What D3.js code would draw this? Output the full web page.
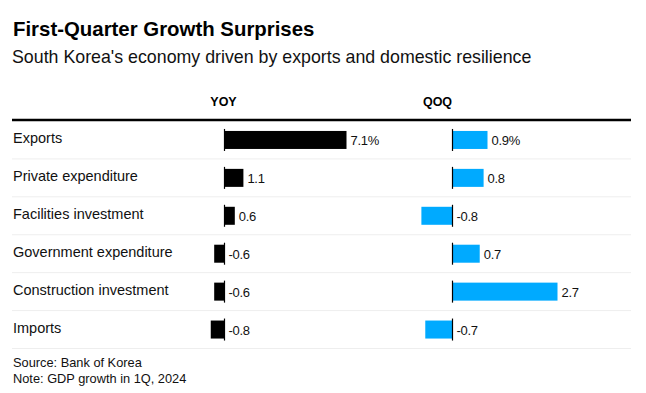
<!DOCTYPE html>
<html>
<head>
<meta charset="utf-8">
<script src="https://cdn.jsdelivr.net/npm/d3@7"></script>
<style>
  body { margin: 0; background: #fff; }
  svg { display: block; font-family: 'Liberation Sans', Arial, sans-serif; }
</style>
</head>
<body>
<svg id="chart" width="646" height="393"></svg>
<script>
'use strict';

var categories = ['Exports', 'Private expenditure', 'Facilities investment',
  'Government expenditure', 'Construction investment', 'Imports'];
var yoyValues = [7.1, 1.1, 0.6, -0.6, -0.6, -0.8];
var qoqValues = [0.9, 0.8, -0.8, 0.7, 2.7, -0.7];
var columnLabels = ['YOY', 'QOQ'];

var svg = d3.select('#chart');
var fmt = d3.formatLocale({ decimal: '.', thousands: ',', grouping: [3], currency: ['', ''], minus: '-' }).format('.1f');

var y = d3.scaleBand().domain(categories).range([121, 348.5]);
var xYoy = d3.scaleLinear().domain([0, 7.1]).range([224.5, 346.5]);
var xQoq = d3.scaleLinear().domain([0, 2.7]).range([452.5, 557.5]);

svg.append('text')
  .attr('x', 13).attr('y', 36)
  .style('font-size', '20.4px')
  .style('font-weight', 'bold')
  .style('fill', '#000')
  .text('First-Quarter Growth Surprises');

svg.append('text')
  .attr('x', 12).attr('y', 63)
  .style('font-size', '17.8px')
  .style('fill', '#111')
  .text("South Korea's economy driven by exports and domestic resilience");

// column headers
svg.selectAll('text.head')
  .data(columnLabels)
  .enter()
  .append('text')
  .attr('class', 'head')
  .attr('x', function(d, i) { return i === 0 ? 223.5 : 437.5; })
  .attr('y', 106)
  .attr('text-anchor', 'middle')
  .style('font-size', '12.5px')
  .style('font-weight', 'bold')
  .style('fill', '#000')
  .text(function(d) { return d; });

// row separators
svg.selectAll('line.sep')
  .data(categories)
  .enter()
  .append('line')
  .attr('class', 'sep')
  .attr('x1', 12).attr('x2', 631)
  .attr('y1', function(d) { return y(d) + y.bandwidth(); })
  .attr('y2', function(d) { return y(d) + y.bandwidth(); })
  .style('stroke', '#eeeeee')
  .style('stroke-width', 1);

svg.append('line')
  .attr('x1', 12).attr('x2', 631)
  .attr('y1', 120).attr('y2', 120)
  .style('stroke', '#000')
  .style('stroke-width', 2.5);

// row labels
svg.selectAll('text.cat')
  .data(categories)
  .enter()
  .append('text')
  .attr('class', 'cat')
  .attr('x', 13)
  .attr('y', function(d) { return y(d) + y.bandwidth() / 2 + 3; })
  .style('font-size', '14.5px')
  .style('fill', '#111')
  .text(function(d) { return d; });

function drawColumn(values, x, color, cls) {
  var rows = categories.map(function(c, i) { return { cat: c, v: values[i], i: i }; });
  var g = svg.append('g').attr('class', cls);

  g.selectAll('rect')
    .data(rows)
    .enter()
    .append('rect')
    .attr('x', function(d) { return Math.min(x(0), x(d.v)); })
    .attr('y', function(d) { return y(d.cat) + y.bandwidth() / 2 - 9; })
    .attr('width', function(d) { return Math.abs(x(d.v) - x(0)); })
    .attr('height', 18)
    .style('fill', color);

  g.selectAll('line')
    .data(rows)
    .enter()
    .append('line')
    .attr('x1', x(0)).attr('x2', x(0))
    .attr('y1', function(d) { return y(d.cat) + y.bandwidth() / 2 - 11; })
    .attr('y2', function(d) { return y(d.cat) + y.bandwidth() / 2 + 11; })
    .style('stroke', '#000')
    .style('stroke-width', 1.2);

  g.selectAll('text')
    .data(rows)
    .enter()
    .append('text')
    .attr('x', function(d) { return Math.max(x(0), x(d.v)) + 4; })
    .attr('y', function(d) { return y(d.cat) + y.bandwidth() / 2 + 5; })
    .style('font-size', '13px')
    .style('letter-spacing', '-0.3px')
    .style('fill', '#111')
    .text(function(d) { return fmt(d.v) + (d.i === 0 ? '%' : ''); });
}

drawColumn(yoyValues, xYoy, '#000000', 'yoy');
drawColumn(qoqValues, xQoq, '#00aaff', 'qoq');

svg.append('text')
  .attr('x', 13).attr('y', 367)
  .style('font-size', '12.8px')
  .style('fill', '#111')
  .text('Source: Bank of Korea');

svg.append('text')
  .attr('x', 13).attr('y', 383)
  .style('font-size', '12.8px')
  .style('fill', '#111')
  .text('Note: GDP growth in 1Q, 2024');
</script>
</body>
</html>
